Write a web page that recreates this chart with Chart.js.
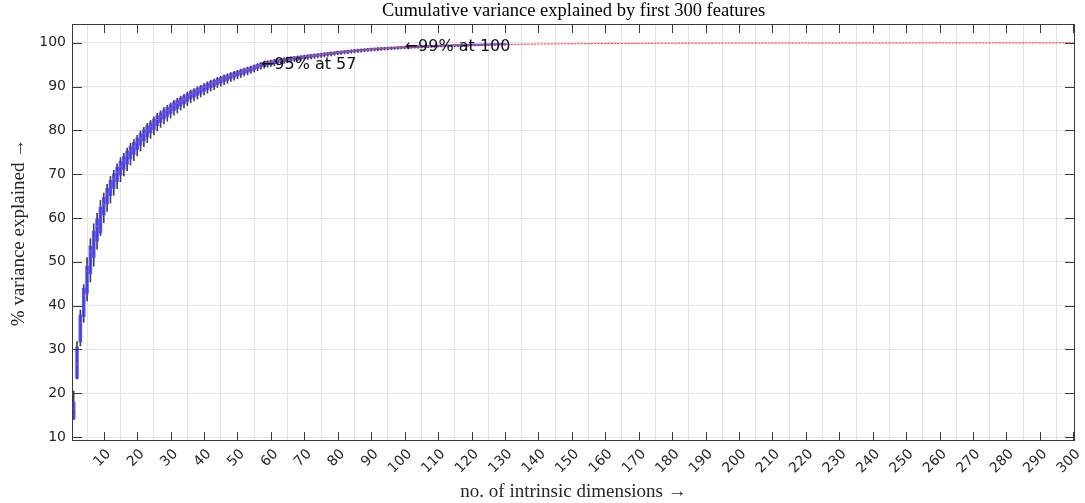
<!DOCTYPE html>
<html>
<head>
<meta charset="utf-8">
<script src="https://cdn.jsdelivr.net/npm/chart.js@4.4.1/dist/chart.umd.min.js"></script>
<style>
  html, body { margin: 0; padding: 0; background: #ffffff; }
  #wrap { width: 1085px; height: 503px; }
</style>
</head>
<body>
<div id="wrap"><canvas id="chart" width="1085" height="503"></canvas></div>
<script>
// Number of retained components (one box per dimension count).
const dims = Array.from({ length: 300 }, (_, i) => i + 1);

// Median cumulative variance explained (%) per number of dimensions.
const medians = [
  16.4, 26.8, 36.0, 42.4, 47.9, 52.4, 55.4, 58.1, 60.8, 63.3,
  65.5, 67.3, 68.9, 70.4, 71.8, 73.0, 74.2, 75.3, 76.3, 77.3,
  78.3, 79.2, 80.1, 80.9, 81.7, 82.5, 83.2, 83.9, 84.5, 85.1,
  85.7, 86.2, 86.7, 87.2, 87.7, 88.2, 88.6, 89.0, 89.4, 89.8,
  90.2, 90.6, 90.9, 91.3, 91.6, 91.9, 92.2, 92.5, 92.8, 93.05,
  93.35, 93.6, 93.85, 94.1, 94.4, 94.7, 95.0, 95.2, 95.4, 95.55,
  95.7, 95.85, 96.0, 96.15, 96.3, 96.4, 96.5, 96.6, 96.7, 96.8,
  96.9, 97.0, 97.1, 97.2, 97.3, 97.4, 97.5, 97.6, 97.7, 97.8,
  97.88, 97.96, 98.04, 98.12, 98.2, 98.27, 98.34, 98.41, 98.48, 98.54,
  98.6, 98.65, 98.7, 98.75, 98.8, 98.84, 98.88, 98.92, 98.96, 99.0,
  99.03, 99.06, 99.09, 99.12, 99.15, 99.18, 99.2, 99.23, 99.25, 99.28,
  99.3, 99.32, 99.34, 99.36, 99.38, 99.4, 99.42, 99.44, 99.46, 99.48,
  99.5, 99.51, 99.53, 99.54, 99.56, 99.57, 99.59, 99.6, 99.61, 99.62,
  99.64, 99.65, 99.66, 99.67, 99.68, 99.69, 99.7, 99.71, 99.72, 99.73,
  99.74, 99.75, 99.75, 99.76, 99.77, 99.77, 99.78, 99.79, 99.79, 99.8,
  99.8, 99.81, 99.81, 99.82, 99.82, 99.83, 99.83, 99.84, 99.84, 99.85,
  99.85, 99.85, 99.86, 99.86, 99.86, 99.87, 99.87, 99.87, 99.88, 99.88,
  99.88, 99.89, 99.89, 99.89, 99.89, 99.9, 99.9, 99.9, 99.9, 99.91,
  99.91, 99.91, 99.91, 99.92, 99.92, 99.92, 99.92, 99.92, 99.93, 99.93,
  99.93, 99.93, 99.93, 99.94, 99.94, 99.94, 99.94, 99.94, 99.94, 99.95,
  99.95, 99.95, 99.95, 99.95, 99.95, 99.95, 99.95, 99.95, 99.95, 99.95,
  99.95, 99.95, 99.96, 99.96, 99.96, 99.96, 99.96, 99.96, 99.96, 99.96,
  99.96, 99.96, 99.96, 99.96, 99.96, 99.96, 99.96, 99.96, 99.96, 99.96,
  99.96, 99.96, 99.97, 99.97, 99.97, 99.97, 99.97, 99.97, 99.97, 99.97,
  99.97, 99.97, 99.97, 99.97, 99.97, 99.97, 99.97, 99.97, 99.97, 99.97,
  99.97, 99.97, 99.98, 99.98, 99.98, 99.98, 99.98, 99.98, 99.98, 99.98,
  99.98, 99.98, 99.98, 99.98, 99.98, 99.98, 99.98, 99.98, 99.98, 99.98,
  99.98, 99.98, 99.98, 99.98, 99.98, 99.99, 99.99, 99.99, 99.99, 99.99,
  99.99, 99.99, 99.99, 99.99, 99.99, 99.99, 99.99, 99.99, 99.99, 99.99,
  99.99, 99.99, 99.99, 99.99, 99.99, 100.0, 100.0, 100.0, 100.0, 100.0
];

// Median minus lower quartile (first 130 dimensions; spread vanishes after that).
const q1Gap = [
  2.3, 3.4, 4.3, 4.9, 5.1, 5.1, 4.4, 3.4, 4.2, 2.6,
  2.3, 2.2, 2.1, 2.1, 2.0, 1.9, 1.9, 1.8, 1.8, 1.7,
  1.7, 1.6, 1.6, 1.5, 1.5, 1.4, 1.4, 1.3, 1.3, 1.3,
  1.2, 1.2, 1.1, 1.1, 1.1, 1.0, 1.0, 1.0, 0.95, 0.9,
  0.9, 0.85, 0.85, 0.8, 0.8, 0.75, 0.75, 0.7, 0.7, 0.65,
  0.65, 0.6, 0.6, 0.58, 0.55, 0.55, 0.52, 0.5, 0.5, 0.48,
  0.46, 0.45, 0.44, 0.42, 0.41, 0.4, 0.39, 0.38, 0.37, 0.36,
  0.35, 0.34, 0.33, 0.32, 0.31, 0.3, 0.3, 0.29, 0.28, 0.28,
  0.27, 0.26, 0.26, 0.25, 0.25, 0.24, 0.24, 0.23, 0.23, 0.22,
  0.22, 0.21, 0.21, 0.2, 0.2, 0.2, 0.19, 0.19, 0.18, 0.18,
  0.18, 0.17, 0.17, 0.17, 0.16, 0.16, 0.16, 0.15, 0.15, 0.15,
  0.14, 0.14, 0.14, 0.13, 0.13, 0.13, 0.12, 0.12, 0.12, 0.11,
  0.11, 0.11, 0.1, 0.1, 0.1, 0.09, 0.09, 0.09, 0.08, 0.08
];

// Upper quartile minus median.
const q3Gap = [
  1.5, 3.8, 1.9, 1.6, 1.1, 1.2, 1.6, 1.7, 1.7, 1.4,
  1.3, 1.3, 1.2, 1.2, 1.2, 1.1, 1.1, 1.1, 1.0, 1.0,
  1.0, 0.95, 0.95, 0.9, 0.9, 0.9, 0.85, 0.85, 0.8, 0.8,
  0.8, 0.75, 0.75, 0.7, 0.7, 0.7, 0.65, 0.65, 0.6, 0.6,
  0.6, 0.58, 0.56, 0.55, 0.53, 0.52, 0.5, 0.49, 0.48, 0.46,
  0.45, 0.44, 0.42, 0.41, 0.4, 0.39, 0.38, 0.37, 0.36, 0.35,
  0.34, 0.33, 0.32, 0.31, 0.3, 0.3, 0.29, 0.28, 0.28, 0.27,
  0.26, 0.26, 0.25, 0.25, 0.24, 0.24, 0.23, 0.23, 0.22, 0.22,
  0.21, 0.21, 0.2, 0.2, 0.2, 0.19, 0.19, 0.18, 0.18, 0.18,
  0.17, 0.17, 0.17, 0.16, 0.16, 0.16, 0.15, 0.15, 0.15, 0.14,
  0.14, 0.14, 0.13, 0.13, 0.13, 0.12, 0.12, 0.12, 0.12, 0.11,
  0.11, 0.11, 0.11, 0.1, 0.1, 0.1, 0.1, 0.09, 0.09, 0.09,
  0.09, 0.08, 0.08, 0.08, 0.08, 0.07, 0.07, 0.07, 0.07, 0.06
];

// Lower quartile minus lower whisker end.
const loGap = [
  0.1, 0.1, 0.9, 1.3, 1.7, 1.9, 2.0, 1.8, 0.6, 1.8,
  1.7, 1.7, 1.6, 1.6, 1.5, 1.5, 1.5, 1.4, 1.4, 1.4,
  1.3, 1.3, 1.3, 1.2, 1.2, 1.2, 1.1, 1.1, 1.1, 1.0,
  1.0, 1.0, 0.95, 0.95, 0.9, 0.9, 0.85, 0.85, 0.8, 0.8,
  0.78, 0.76, 0.74, 0.72, 0.7, 0.68, 0.66, 0.64, 0.62, 0.6,
  0.58, 0.56, 0.55, 0.53, 0.52, 0.5, 0.49, 0.48, 0.46, 0.45,
  0.44, 0.43, 0.42, 0.41, 0.4, 0.39, 0.38, 0.37, 0.36, 0.35,
  0.34, 0.33, 0.32, 0.31, 0.3, 0.3, 0.29, 0.28, 0.28, 0.27,
  0.26, 0.26, 0.25, 0.25, 0.24, 0.24, 0.23, 0.23, 0.22, 0.22,
  0.21, 0.21, 0.2, 0.2, 0.2, 0.19, 0.19, 0.18, 0.18, 0.18,
  0.17, 0.17, 0.16, 0.16, 0.15, 0.15, 0.15, 0.14, 0.14, 0.14,
  0.13, 0.13, 0.13, 0.12, 0.12, 0.12, 0.11, 0.11, 0.11, 0.1,
  0.1, 0.1, 0.1, 0.09, 0.09, 0.09, 0.09, 0.08, 0.08, 0.08
];

// Upper whisker end minus upper quartile.
const hiGap = [
  2.6, 1.2, 1.1, 0.8, 2.0, 1.7, 1.7, 1.3, 1.5, 1.0,
  0.9, 0.9, 0.8, 0.8, 0.8, 0.7, 0.7, 0.7, 0.6, 0.6,
  0.6, 0.55, 0.55, 0.5, 0.5, 0.5, 0.45, 0.45, 0.45, 0.4,
  0.4, 0.4, 0.38, 0.36, 0.35, 0.34, 0.33, 0.32, 0.31, 0.3,
  0.3, 0.29, 0.28, 0.27, 0.26, 0.25, 0.25, 0.24, 0.23, 0.22,
  0.22, 0.21, 0.2, 0.2, 0.19, 0.19, 0.18, 0.18, 0.17, 0.17,
  0.16, 0.16, 0.15, 0.15, 0.15, 0.14, 0.14, 0.14, 0.13, 0.13,
  0.13, 0.12, 0.12, 0.12, 0.11, 0.11, 0.11, 0.1, 0.1, 0.1,
  0.1, 0.1, 0.1, 0.09, 0.09, 0.09, 0.09, 0.09, 0.08, 0.08,
  0.08, 0.08, 0.08, 0.08, 0.07, 0.07, 0.07, 0.07, 0.07, 0.07,
  0.07, 0.07, 0.06, 0.06, 0.06, 0.06, 0.06, 0.06, 0.05, 0.05,
  0.05, 0.05, 0.05, 0.05, 0.05, 0.04, 0.04, 0.04, 0.04, 0.04,
  0.04, 0.04, 0.04, 0.03, 0.03, 0.03, 0.03, 0.03, 0.03, 0.03
];

// Axis tick positions / labels.
const xTickValues = [10, 20, 30, 40, 50, 60, 70, 80, 90, 100, 110, 120, 130, 140, 150,
  160, 170, 180, 190, 200, 210, 220, 230, 240, 250, 260, 270, 280, 290, 300];
const yTickValues = [10, 20, 30, 40, 50, 60, 70, 80, 90, 100];

// Threshold call-outs.
const noteDims = [57, 100];
const noteValues = [95, 99];
const noteTexts = ['\u219095% at 57', '\u219099% at 100'];

const medianData = dims.map((d, i) => ({ x: d, y: medians[i] }));
const boxData = dims.slice(0, q1Gap.length).map((d, i) => ({
  x: d,
  y: [medians[i] - q1Gap[i], medians[i] + q3Gap[i]]
}));
const whiskerData = dims.slice(0, loGap.length).map((d, i) => ({
  x: d,
  y: [medians[i] - q1Gap[i] - loGap[i], medians[i] + q3Gap[i] + hiGap[i]]
}));

const AXIS_COLOR = '#3a3a3a';

// Box outline plus inward tick marks on all four sides.
const framePlugin = {
  id: 'frame',
  afterDraw(chart) {
    const { ctx, chartArea: a, scales } = chart;
    ctx.save();
    ctx.strokeStyle = AXIS_COLOR;
    ctx.lineWidth = 1;
    ctx.strokeRect(Math.round(a.left) + 0.5, Math.round(a.top) + 0.5,
      Math.round(a.right - a.left) - 1, Math.round(a.bottom - a.top) - 1);
    ctx.beginPath();
    scales.x.ticks.forEach(t => {
      const px = Math.round(scales.x.getPixelForValue(t.value)) + 0.5;
      ctx.moveTo(px, a.bottom); ctx.lineTo(px, a.bottom - 9);
      ctx.moveTo(px, a.top); ctx.lineTo(px, a.top + 9);
    });
    scales.y.ticks.forEach(t => {
      const py = Math.round(scales.y.getPixelForValue(t.value)) + 0.5;
      ctx.moveTo(a.left, py); ctx.lineTo(a.left + 10, py);
      ctx.moveTo(a.right, py); ctx.lineTo(a.right - 10, py);
    });
    ctx.stroke();
    ctx.restore();
  }
};

// Text call-outs anchored at data coordinates.
const notesPlugin = {
  id: 'notes',
  afterDatasetsDraw(chart) {
    const { ctx, scales } = chart;
    ctx.save();
    ctx.font = '16px "DejaVu Sans"';
    ctx.fillStyle = '#111111';
    ctx.textAlign = 'left';
    ctx.textBaseline = 'middle';
    noteTexts.forEach((txt, i) => {
      ctx.fillText(txt, scales.x.getPixelForValue(noteDims[i]), scales.y.getPixelForValue(noteValues[i]));
    });
    ctx.restore();
  }
};

const SERIF = '"Liberation Serif", "Times New Roman", serif';

new Chart(document.getElementById('chart'), {
  type: 'bar',
  data: {
    datasets: [
      {
        type: 'line',
        data: medianData,
        showLine: false,
        pointStyle: 'line',
        pointRadius: 1.2,
        pointBorderWidth: 1,
        pointBorderColor: '#ff3b3b',
        borderColor: '#ff3b3b',
        order: 0
      },
      {
        type: 'bar',
        data: boxData,
        backgroundColor: 'rgba(60, 60, 255, 0.8)',
        borderWidth: 0,
        barThickness: 3,
        minBarLength: 1.5,
        grouped: false,
        order: 1
      },
      {
        type: 'bar',
        data: whiskerData,
        backgroundColor: 'rgba(20, 20, 20, 0.8)',
        borderWidth: 0,
        barThickness: 1,
        grouped: false,
        order: 2
      }
    ]
  },
  options: {
    responsive: false,
    animation: false,
    events: [],
    layout: { padding: { left: 0, right: 10, top: 0, bottom: 0 } },
    plugins: {
      legend: { display: false },
      tooltip: { enabled: false },
      title: {
        display: true,
        fullSize: false,
        text: 'Cumulative variance explained by first 300 features',
        color: '#000000',
        font: { family: SERIF, size: 18.5, weight: 'normal' },
        padding: { top: 0, bottom: 1.8 }
      }
    },
    scales: {
      x: {
        type: 'linear',
        min: 0.5,
        max: 300.5,
        offset: false,
        afterBuildTicks: s => { s.ticks = xTickValues.map(v => ({ value: v })); },
        afterFit: s => { s.height = 62; s.paddingLeft = 0; s.paddingRight = 0; },
        grid: { color: '#e4e4e4', drawTicks: false },
        border: { display: false },
        ticks: {
          autoSkip: false,
          minRotation: 45,
          maxRotation: 45,
          padding: 5,
          labelOffset: 5,
          color: '#262626',
          font: { family: '"DejaVu Sans"', size: 14 },
          callback: v => String(v)
        },
        title: {
          display: true,
          text: 'no. of intrinsic dimensions \u2192',
          color: '#262626',
          font: { family: SERIF, size: 19 },
          padding: { top: 0, bottom: 0 }
        }
      },
      y: {
        type: 'linear',
        min: 9.1,
        max: 104.3,
        afterBuildTicks: s => { s.ticks = yTickValues.map(v => ({ value: v })); },
        afterFit: s => { s.width = 72; s.paddingTop = 0; s.paddingBottom = 0; },
        grid: { color: '#e4e4e4', drawTicks: false },
        border: { display: false },
        ticks: {
          padding: 6,
          color: '#262626',
          font: { family: '"DejaVu Sans"', size: 14 },
          callback: v => String(v)
        },
        title: {
          display: true,
          text: '% variance explained \u2192',
          color: '#262626',
          font: { family: SERIF, size: 19 },
          padding: { top: 8, bottom: 0 }
        }
      }
    }
  },
  plugins: [framePlugin, notesPlugin]
});
</script>
</body>
</html>
